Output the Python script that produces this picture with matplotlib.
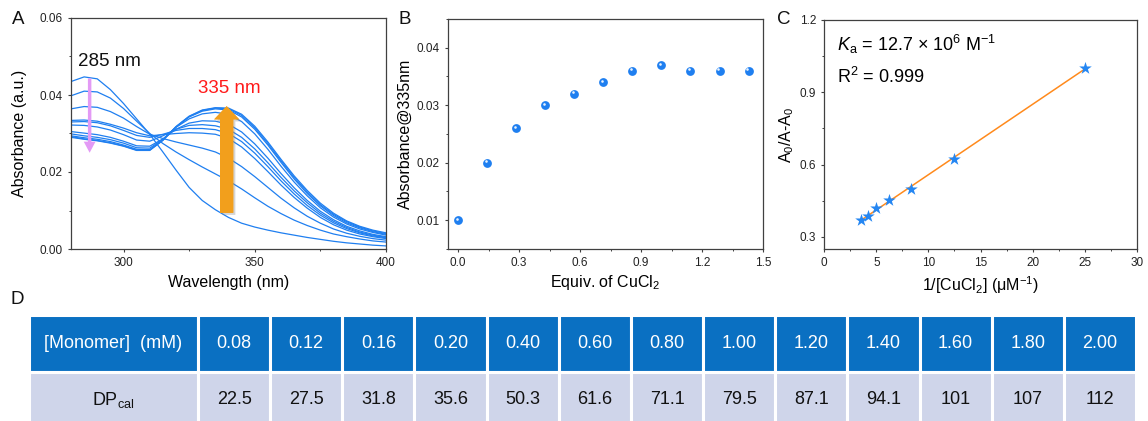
import numpy as np
import matplotlib
matplotlib.use("Agg")
import matplotlib.pyplot as plt
from matplotlib.patches import FancyArrowPatch
from matplotlib.ticker import MultipleLocator
import matplotlib.patheffects as pe
import matplotlib.transforms as mtrans

plt.rcParams['font.family'] = ['Liberation Sans', 'DejaVu Sans']
plt.rcParams['mathtext.fontset'] = 'custom'
plt.rcParams['mathtext.rm'] = 'Liberation Sans'
plt.rcParams['mathtext.it'] = 'Liberation Sans:italic'
plt.rcParams['mathtext.default'] = 'regular'

# --- UV titration spectra (A) ---
wavelength = list(range(280, 405, 5))
spec_00 = [0.0435, 0.0447, 0.0442, 0.0414, 0.0378, 0.0338, 0.0298, 0.0252, 0.0205, 0.0160, 0.0126, 0.0102, 0.0082,
           0.0067, 0.0057, 0.0049, 0.0042, 0.0036, 0.0030, 0.0025, 0.0020, 0.0016, 0.0013, 0.0010, 0.0008]
spec_01 = [0.0398, 0.0410, 0.0408, 0.0392, 0.0365, 0.0332, 0.0300, 0.0274, 0.0252, 0.0232, 0.0213, 0.0195, 0.0177,
           0.0156, 0.0133, 0.0111, 0.0092, 0.0075, 0.0061, 0.0049, 0.0039, 0.0032, 0.0026, 0.0021, 0.0018]
spec_02 = [0.0364, 0.0370, 0.0368, 0.0357, 0.0340, 0.0318, 0.0298, 0.0287, 0.0278, 0.0270, 0.0262, 0.0252, 0.0236,
           0.0214, 0.0188, 0.0160, 0.0132, 0.0107, 0.0085, 0.0067, 0.0052, 0.0041, 0.0033, 0.0027, 0.0023]
spec_03 = [0.0334, 0.0335, 0.0332, 0.0324, 0.0314, 0.0302, 0.0294, 0.0297, 0.0300, 0.0302, 0.0301, 0.0298, 0.0287,
           0.0265, 0.0235, 0.0201, 0.0166, 0.0134, 0.0106, 0.0082, 0.0063, 0.0049, 0.0039, 0.0032, 0.0027]
spec_04 = [0.0330, 0.0331, 0.0328, 0.0320, 0.0308, 0.0295, 0.0290, 0.0298, 0.0308, 0.0313, 0.0313, 0.0310, 0.0300,
           0.0279, 0.0249, 0.0214, 0.0177, 0.0143, 0.0113, 0.0088, 0.0068, 0.0053, 0.0042, 0.0034, 0.0029]
spec_05 = [0.0322, 0.0321, 0.0317, 0.0309, 0.0297, 0.0283, 0.0280, 0.0294, 0.0311, 0.0321, 0.0323, 0.0320, 0.0311,
           0.0290, 0.0260, 0.0224, 0.0186, 0.0151, 0.0120, 0.0093, 0.0072, 0.0056, 0.0044, 0.0036, 0.0030]
spec_06 = [0.0305, 0.0301, 0.0297, 0.0290, 0.0280, 0.0268, 0.0267, 0.0286, 0.0311, 0.0327, 0.0333, 0.0332, 0.0324,
           0.0304, 0.0273, 0.0236, 0.0196, 0.0159, 0.0126, 0.0098, 0.0076, 0.0059, 0.0047, 0.0038, 0.0032]
spec_07 = [0.0299, 0.0294, 0.0290, 0.0284, 0.0275, 0.0263, 0.0262, 0.0285, 0.0316, 0.0338, 0.0351, 0.0355, 0.0350,
           0.0331, 0.0299, 0.0259, 0.0215, 0.0174, 0.0138, 0.0107, 0.0083, 0.0065, 0.0052, 0.0043, 0.0036]
spec_08 = [0.0294, 0.0289, 0.0285, 0.0279, 0.0270, 0.0259, 0.0258, 0.0283, 0.0317, 0.0343, 0.0358, 0.0364, 0.0361,
           0.0343, 0.0311, 0.0270, 0.0225, 0.0182, 0.0144, 0.0112, 0.0087, 0.0068, 0.0055, 0.0045, 0.0038]
spec_09 = [0.0290, 0.0285, 0.0281, 0.0275, 0.0267, 0.0256, 0.0256, 0.0282, 0.0317, 0.0344, 0.0360, 0.0366, 0.0364,
           0.0347, 0.0315, 0.0274, 0.0229, 0.0186, 0.0148, 0.0115, 0.0090, 0.0071, 0.0057, 0.0047, 0.0040]
spec_10 = [0.0292, 0.0286, 0.0282, 0.0276, 0.0268, 0.0257, 0.0257, 0.0283, 0.0318, 0.0345, 0.0361, 0.0367, 0.0366,
           0.0350, 0.0319, 0.0278, 0.0233, 0.0190, 0.0152, 0.0119, 0.0093, 0.0073, 0.0059, 0.0049, 0.0042]
spectra = [spec_00, spec_01, spec_02, spec_03, spec_04, spec_05, spec_06, spec_07, spec_08, spec_09, spec_10]

# --- absorbance at 335 nm vs equivalents (B) ---
equiv = [0.0, 0.143, 0.286, 0.429, 0.571, 0.714, 0.857, 1.0, 1.143, 1.286, 1.429]
abs335 = [0.010, 0.020, 0.026, 0.030, 0.032, 0.034, 0.036, 0.037, 0.036, 0.036, 0.036]

# --- Benesi-Hildebrand plot (C) ---
inv_cu = [25.0, 12.5, 8.33, 6.25, 5.0, 4.17, 3.57]
ratio = [1.000, 0.624, 0.500, 0.455, 0.420, 0.386, 0.372]

# --- DP table (D) ---
monomer = ['0.08', '0.12', '0.16', '0.20', '0.40', '0.60', '0.80', '1.00', '1.20', '1.40', '1.60', '1.80', '2.00']
dp_cal = ['22.5', '27.5', '31.8', '35.6', '50.3', '61.6', '71.1', '79.5', '87.1', '94.1', '101', '107', '112']

BLUE = '#1f7ff0'
W, H = 1148, 421
fig = plt.figure(figsize=(W / 100, H / 100), dpi=100)


def px_axes(l, t, r, b):
    return fig.add_axes([l / W, 1 - b / H, (r - l) / W, (b - t) / H])


def style(ax):
    for s in ax.spines.values():
        s.set_color('#404040')
        s.set_linewidth(0.9)
    ax.tick_params(which='major', direction='out', length=2.5, width=0.8, labelsize=8.5,
                   colors='#404040', labelcolor='#222222', top=False, right=False)
    ax.tick_params(which='minor', direction='out', length=1.6, width=0.7, colors='#404040',
                   top=False, right=False)


# A
axA = px_axes(71, 18, 386, 249)
for sp in spectra:
    axA.plot(wavelength, sp, color=BLUE, lw=0.9)
axA.set_xlim(280, 400)
axA.set_ylim(0, 0.06)
axA.xaxis.set_major_locator(MultipleLocator(50))
axA.xaxis.set_minor_locator(MultipleLocator(25))
axA.yaxis.set_major_locator(MultipleLocator(0.02))
axA.yaxis.set_minor_locator(MultipleLocator(0.01))
axA.yaxis.set_major_formatter(lambda v, p: f'{v:.2f}')
axA.set_xticks([300, 350, 400])
style(axA)
axA.set_xlabel('Wavelength (nm)', fontsize=11.5)
axA.set_ylabel('Absorbance (a.u.)', fontsize=11.5)
axA.xaxis.set_label_coords(0.5, -0.112)
axA.yaxis.set_label_coords(-0.14, 0.5)
axA.text(282.5, 0.0487, '285 nm', fontsize=13.5, va='center', color='#111111')
axA.text(328.5, 0.0416, '335 nm', fontsize=13.5, va='center', color='#ff1a1a')
axA.add_patch(FancyArrowPatch((287.1, 0.0443), (287.1, 0.0250), mutation_scale=10,
                              arrowstyle='simple,head_length=0.8,head_width=0.85,tail_width=0.25',
                              color='#e39af5', lw=0, shrinkA=0, shrinkB=0, zorder=5))
axA.add_patch(FancyArrowPatch((339.3, 0.0094), (339.3, 0.0371), mutation_scale=10,
                              arrowstyle='simple,head_length=0.95,head_width=1.8,tail_width=0.95',
                              color='#f29f1c', lw=0, shrinkA=0, shrinkB=0, zorder=5,
                              path_effects=[pe.withSimplePatchShadow(offset=(1.5, -1.5), shadow_rgbFace='#888888',
                                                                     alpha=0.35), pe.Normal()]))

# B
axB = px_axes(448, 19, 763, 249)
axB.scatter(equiv, abs335, s=40, color=BLUE, zorder=3, linewidths=0)
shine = mtrans.offset_copy(axB.transData, fig=fig, x=-0.8, y=0.9, units='points')
axB.scatter(equiv, abs335, s=3.5, color='white', alpha=0.9, zorder=4, linewidths=0, transform=shine)
axB.set_xlim(-0.05, 1.5)
axB.set_ylim(0.005, 0.045)
axB.xaxis.set_major_locator(MultipleLocator(0.3))
axB.xaxis.set_minor_locator(MultipleLocator(0.15))
axB.yaxis.set_major_locator(MultipleLocator(0.01))
axB.yaxis.set_minor_locator(MultipleLocator(0.005))
axB.xaxis.set_major_formatter(lambda v, p: f'{v:.1f}')
axB.yaxis.set_major_formatter(lambda v, p: f'{v:.2f}')
style(axB)
axB.set_xlabel('Equiv. of CuCl$_2$', fontsize=11.5)
axB.set_ylabel('Absorbance@335nm', fontsize=11.5)
axB.xaxis.set_label_coords(0.5, -0.104)
axB.yaxis.set_label_coords(-0.112, 0.5)

# C
axC = px_axes(824.3, 20, 1136.7, 249)
slope, icpt = np.polyfit(inv_cu, ratio, 1)
xf = np.array([min(inv_cu), max(inv_cu)])
axC.plot(xf, slope * xf + icpt, color='#ff8a1c', lw=1.1, zorder=2)
axC.scatter(inv_cu, ratio, marker='*', s=90, color='#2486f2', linewidths=0, zorder=3)
axC.set_xlim(0, 30)
axC.set_ylim(0.25, 1.2)
axC.xaxis.set_major_locator(MultipleLocator(5))
axC.xaxis.set_minor_locator(MultipleLocator(2.5))
axC.yaxis.set_major_locator(MultipleLocator(0.3))
axC.yaxis.set_minor_locator(MultipleLocator(0.15))
axC.yaxis.set_major_formatter(lambda v, p: f'{v:.1f}')
style(axC)
axC.set_xlabel('1/[CuCl$_2$] (μM$^{-1}$)', fontsize=11.5)
axC.set_ylabel('A$_0$/A-A$_0$', fontsize=11.5)
axC.xaxis.set_label_coords(0.5, -0.11)
axC.yaxis.set_label_coords(-0.092, 0.5)
axC.text(0.04, 0.895, r'$\it{K}$$_a$ = 12.7 × 10$^6$ M$^{-1}$', transform=axC.transAxes,
         fontsize=13, va='center')
axC.text(0.04, 0.75, 'R$^2$ = 0.999', transform=axC.transAxes, fontsize=13, va='center')

# panel letters
for lab, x, y in [('A', 12, 20), ('B', 399, 19), ('C', 777, 20), ('D', 10, 300)]:
    fig.text(x / W, 1 - y / H, lab, fontsize=13.5, va='center', ha='left', color='#111111')

# D: table
axD = px_axes(29, 315, 1136, 428)
axD.axis('off')
cw0 = 169 / (1136 - 29)
cw = (1 - cw0) / len(monomer)
tbl = axD.table(cellText=[['[Monomer]  (mM)'] + monomer, ['DP$_{cal}$'] + dp_cal],
                cellLoc='center', bbox=[0, 0, 1, 1], colWidths=[cw0] + [cw] * len(monomer))
tbl.auto_set_font_size(False)
for (r, c), cell in tbl.get_celld().items():
    cell.set_edgecolor('white')
    cell.set_linewidth(2.2)
    if r == 0:
        cell.set_facecolor('#0a70c2')
        cell.get_text().set_color('white')
    else:
        cell.set_facecolor('#cfd5ea')
        cell.get_text().set_color('#111111')
    cell.get_text().set_fontsize(13)

fig.savefig('out.png', dpi=100)
